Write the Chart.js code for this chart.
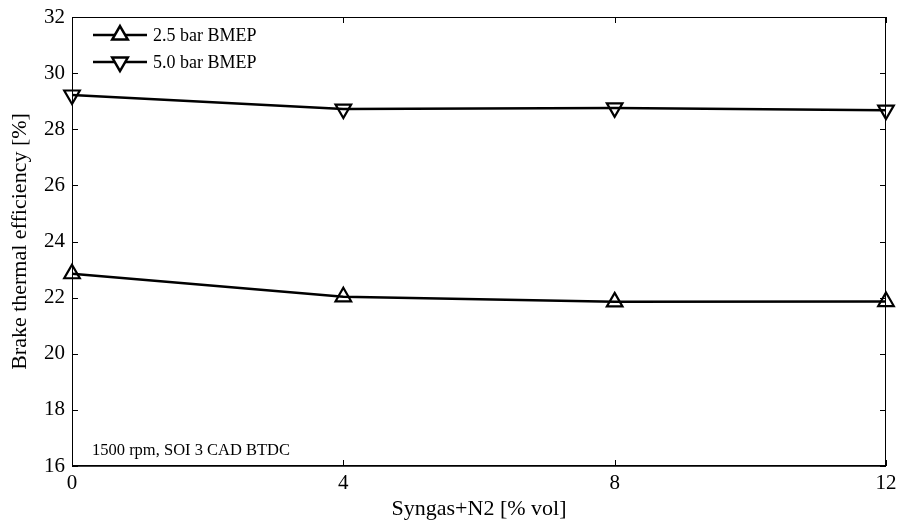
<!DOCTYPE html>
<html>
<head>
<meta charset="utf-8">
<script src="https://cdn.jsdelivr.net/npm/chart.js@4/dist/chart.umd.min.js"></script>
<style>
  html, body { margin: 0; padding: 0; background: #fff; }
  #wrap { width: 898px; height: 522px; }
</style>
</head>
<body>
<div id="wrap"><canvas id="c" width="898" height="522"></canvas></div>
<script>
const syngas = [0, 4, 8, 12];
const bmep25 = [22.85, 22.03, 21.85, 21.86];
const bmep50 = [29.22, 28.72, 28.76, 28.68];
const yTicks = [16, 18, 20, 22, 24, 26, 28, 30, 32];
const xTicks = [0, 4, 8, 12];
const seriesNames = ["2.5 bar BMEP", "5.0 bar BMEP"];
const note = "1500 rpm, SOI 3 CAD BTDC";

const serif = "'Liberation Serif', 'Times New Roman', serif";

// box, inward ticks, legend and note in MATLAB style
const matlabBox = {
    id: "matlabBox",
    afterDraw(chart) {
        const { ctx, chartArea: a, scales: { x, y } } = chart;
        ctx.save();
        ctx.strokeStyle = "#000";
        ctx.lineWidth = 1;
        ctx.strokeRect(a.left + 0.5, a.top + 0.5, a.width - 1, a.height - 1);
        ctx.lineWidth = 1.5;
        ctx.beginPath();
        ctx.moveTo(a.left, a.bottom);
        ctx.lineTo(a.right, a.bottom);
        ctx.stroke();
        ctx.lineWidth = 1;
        ctx.beginPath();
        yTicks.forEach(v => {
            const py = Math.round(y.getPixelForValue(v)) + 0.5;
            ctx.moveTo(a.left, py); ctx.lineTo(a.left + 6, py);
            ctx.moveTo(a.right, py); ctx.lineTo(a.right - 6, py);
        });
        xTicks.forEach(v => {
            const px = Math.round(x.getPixelForValue(v)) + 0.5;
            ctx.moveTo(px, a.bottom); ctx.lineTo(px, a.bottom - 6);
            ctx.moveTo(px, a.top); ctx.lineTo(px, a.top + 6);
        });
        ctx.stroke();

        // legend
        ctx.font = "18px " + serif;
        ctx.textBaseline = "middle";
        chart.data.datasets.forEach((ds, i) => {
            const ly = a.top + 18 + i * 27;
            ctx.lineWidth = ds.borderWidth;
            ctx.strokeStyle = "#000";
            ctx.beginPath();
            ctx.moveTo(a.left + 21, ly);
            ctx.lineTo(a.left + 75, ly);
            ctx.stroke();
            ctx.fillStyle = "#fff";
            Chart.helpers.drawPoint(ctx, {
                pointStyle: ds.pointStyle,
                radius: ds.pointRadius,
                rotation: ds.pointRotation,
                borderWidth: ds.pointBorderWidth
            }, a.left + 48, ly);
            ctx.fillStyle = "#000";
            ctx.fillText(ds.label, a.left + 81, ly + 1);
        });

        // operating point note
        ctx.font = "16.5px " + serif;
        ctx.fillStyle = "#000";
        ctx.fillText(note, a.left + 20, a.bottom - 15);
        ctx.restore();
    }
};

new Chart(document.getElementById("c"), {
    type: "line",
    data: {
        datasets: [
            {
                label: seriesNames[0],
                data: syngas.map((s, i) => ({ x: s, y: bmep25[i] })),
                borderColor: "#000",
                borderWidth: 2.5,
                pointStyle: "triangle",
                pointRotation: 0,
                pointRadius: 9,
                pointBorderWidth: 2.2,
                pointBackgroundColor: "rgba(255,255,255,0)",
                pointBorderColor: "#000",
                clip: false
            },
            {
                label: seriesNames[1],
                data: syngas.map((s, i) => ({ x: s, y: bmep50[i] })),
                borderColor: "#000",
                borderWidth: 2.5,
                pointStyle: "triangle",
                pointRotation: 180,
                pointRadius: 9,
                pointBorderWidth: 2.2,
                pointBackgroundColor: "rgba(255,255,255,0)",
                pointBorderColor: "#000",
                clip: false
            }
        ]
    },
    options: {
        responsive: false,
        animation: false,
        layout: { padding: { top: 17, right: 12, left: 0, bottom: 0 } },
        plugins: {
            legend: { display: false },
            tooltip: { enabled: false }
        },
        scales: {
            x: {
                type: "linear",
                min: 0,
                max: 12,
                afterBuildTicks: s => { s.ticks = xTicks.map(v => ({ value: v })); },
                afterFit: s => { s.height = 56; s.paddingLeft = 0; s.paddingRight = 0; },
                grid: { display: false, drawTicks: false },
                border: { display: false },
                ticks: { color: "#000", padding: 5, font: { family: serif, size: 21 } },
                title: {
                    display: true,
                    text: "Syngas+N2 [% vol]",
                    color: "#000",
                    padding: { top: 0, bottom: 0 },
                    font: { family: serif, size: 22 }
                }
            },
            y: {
                min: 16,
                max: 32,
                afterBuildTicks: s => { s.ticks = yTicks.map(v => ({ value: v })); },
                afterFit: s => { s.width = 72; s.paddingTop = 0; s.paddingBottom = 0; },
                grid: { display: false, drawTicks: false },
                border: { display: false },
                ticks: { color: "#000", padding: 7, font: { family: serif, size: 21 } },
                title: {
                    display: true,
                    text: "Brake thermal efficiency [%]",
                    color: "#000",
                    padding: { top: 7, bottom: 0 },
                    font: { family: serif, size: 22 }
                }
            }
        }
    },
    plugins: [matlabBox]
});
</script>
</body>
</html>
